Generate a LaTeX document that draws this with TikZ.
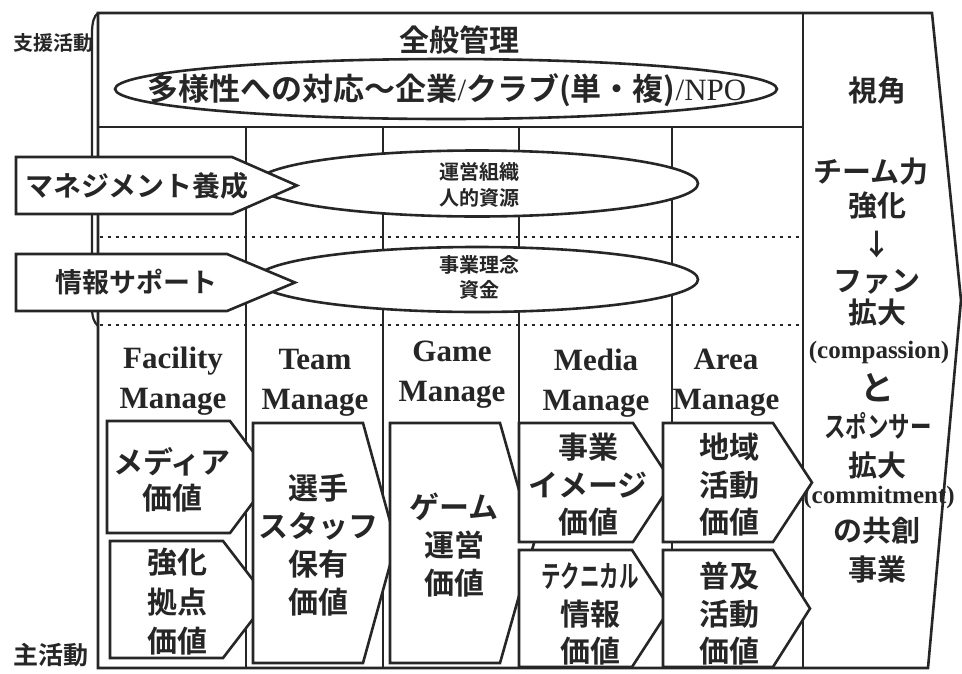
\documentclass[tikz,border=0pt]{standalone}
\usepackage{fontspec}
\usepackage{graphicx}
\newfontfamily\jp{Noto Sans CJK JP Bold}
\newfontfamily\tms{Liberation Serif}
\definecolor{ink}{HTML}{262626}
\newcommand\mypent[5]{\draw[pentst] (#1,#2) -- (#4,#2) -- (#5,{(#2+#3)/2}) -- (#4,#3) -- (#1,#3) -- cycle;}
\begin{document}
\begin{tikzpicture}[x=1pt,y=-1pt]
\tikzset{
 ln/.style={line width=2.6pt, draw=ink, line join=miter},
 pentst/.style={ln, fill=white},
 dotln/.style={line width=2.6pt, draw=ink, dash pattern=on 2.6pt off 5.4pt},
 jt/.style={font=\jp\fontsize{30}{38}\selectfont, text=ink, align=center, inner sep=0pt},
 et/.style={font=\tms\bfseries\fontsize{31}{40}\selectfont, text=ink, align=center, inner sep=0pt},
}
\useasboundingbox[fill=white] (0,0) rectangle (962,673);

% left labels
\node[jt, font=\jp\fontsize{20}{20}\selectfont] (shien) at (53,43) {支援活動};
\node[jt, font=\jp\fontsize{25}{25}\selectfont] (shu) at (51,655) {主活動};

% left bracket of support activities
\draw[line width=2.2pt, draw=ink] (98,13) .. controls (94,16) and (92,22) .. (92,34) -- (92,306) .. controls (92,318) and (94,322) .. (98,326);

% main frame
\draw[ln] (98,668) -- (98,13) -- (932,13) -- (961,300) -- (928,668) -- cycle;
\draw[ln] (803,13) -- (803,668);
\draw[ln] (98,127) -- (803,127);
\foreach \cx in {246,383,519,672} { \draw[ln] (\cx,127) -- (\cx,668); }
\draw[dotln] (100,237) -- (803,237);
\draw[dotln] (100,325) -- (803,325);

% general management
\node[jt] (zenpan) at (459,40) {全般管理};
\draw[ln, fill=white] (446,89) ellipse [x radius=331pt, y radius=30pt];
\node[jt, font=\jp\fontsize{31}{31}\selectfont] (tayo) at (447,90)
  {多様性への対応～企業{\tms/}クラブ(単・複){\tms/NPO}};

% support ellipses
\draw[ln, fill=white] (477,183.5) ellipse [x radius=221pt, y radius=33pt];
\draw[ln, fill=white] (477,279.5) ellipse [x radius=221pt, y radius=32.5pt];
\node[jt, font=\jp\fontsize{20}{26}\selectfont] (unei) at (479,185) {運営組織\\人的資源};
\node[jt, font=\jp\fontsize{20}{25}\selectfont] (rinen) at (479,277) {事業理念\\資金};

% support arrows
\mypent{16}{157}{214}{232}{297}
\mypent{16}{254}{311}{227}{295}
\node[jt, font=\jp\fontsize{28}{28}\selectfont] (mgmt) at (137,186) {マネジメント養成};
\node[jt, font=\jp\fontsize{27}{27}\selectfont] (joho) at (137,282) {情報サポート};

% column headers
\node[et] (h1) at (173,381) {Facility\\Manage};
\node[et] (h2) at (315,383) {Team\\Manage};
\node[et] (h3) at (452,375) {Game\\Manage};
\node[et] (h4) at (596,383) {Media\\Manage};
\node[et] (h5) at (726,383) {Area\\Manage};

% primary activity arrows
\mypent{107}{421}{533}{230}{272}
\mypent{110}{541}{658}{223}{268}
\mypent{253}{423}{663}{363}{396}
\mypent{390}{423}{663}{500}{534}
\mypent{519}{423}{542}{633}{672}
\mypent{519}{550}{667}{632}{670}
\mypent{663}{423}{542}{773}{812}
\mypent{663}{550}{667}{773}{810}

\node[jt, font=\jp\fontsize{30}{36}\selectfont] (p1) at (172,480) {メディア\\価値};
\node[jt, font=\jp\fontsize{30}{39.5}\selectfont] (p2) at (177,602) {強化\\拠点\\価値};
\node[jt, font=\jp\fontsize{30}{38.3}\selectfont] (p3) at (318,545) {選手\\スタッフ\\保有\\価値};
\node[jt] (p4) at (454,545) {ゲーム\\運営\\価値};
\node[jt, font=\jp\fontsize{30}{37.5}\selectfont] (p5) at (588,485) {事業\\イメージ\\価値};
\node[jt, font=\jp\fontsize{30}{37.5}\selectfont] (p6) at (590,614) {\scalebox{0.65}[1]{テクニカル}\\情報\\価値};
\node[jt, font=\jp\fontsize{30}{37.5}\selectfont] (p7) at (729,485) {地域\\活動\\価値};
\node[jt, font=\jp\fontsize{30}{37.5}\selectfont] (p8) at (729,614) {普及\\活動\\価値};

% right column
\tikzset{rc/.style={jt, font=\jp\fontsize{29}{29}\selectfont}}
\node[rc] (r1) at (877,90) {視角};
\node[rc] (r2) at (871,172) {チーム力};
\node[rc] (r3) at (877,206) {強化};
\node[rc] (r4) at (877,245) {↓};
\node[rc] (r5) at (877,282) {ファン};
\node[rc] (r6) at (877,312) {拡大};
\node[et, font=\tms\bfseries\fontsize{25}{25}\selectfont] (r7) at (879,352) {(compassion)};
\node[rc, font=\jp\fontsize{34}{34}\selectfont] (r8) at (877,388) {と};
\node[rc] (r9) at (878,426) {\scalebox{0.74}[1]{スポンサー}};
\node[rc] (r10) at (877,465) {拡大};
\node[et, font=\tms\bfseries\fontsize{25}{25}\selectfont] (r11) at (879,497) {(commitment)};
\node[rc] (r12) at (877,531) {の共創};
\node[rc] (r13) at (877,569) {事業};
\end{tikzpicture}
\end{document}
